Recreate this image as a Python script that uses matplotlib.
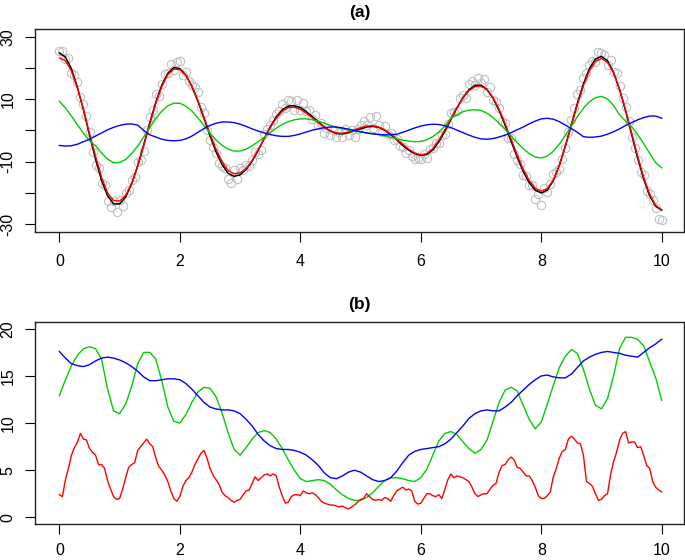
import matplotlib
matplotlib.use("Agg")
import matplotlib.pyplot as plt
import numpy as np

plt.rcParams['font.family'] = ['Liberation Sans', 'DejaVu Sans']

# grids
x_pts = np.linspace(0, 10, 201)
x_line = np.linspace(0, 10, 101)

# panel (a): noisy observations
obs = [25.3, 25.4, 22.9, 23.3, 18.5, 17.8, 15.6, 10.7, 8.4, 4.7,
       -0.5, -6.9, -11.0, -11.9, -16.7, -17.5, -22.5, -24.5, -22.7, -26.1,
       -22.2, -24.1, -19.9, -19.0, -15.8, -14.9, -10.2, -9.3, -6.6, 0.1,
       4.2, 6.4, 11.8, 11.0, 14.9, 18.1, 18.5, 21.2, 19.3, 21.9,
       22.2, 17.9, 18.8, 15.7, 14.6, 13.9, 12.3, 7.5, 5.6, 0.3,
       -3.0, -5.3, -7.2, -10.4, -11.5, -12.0, -15.5, -16.9, -12.7, -15.6,
       -11.9, -12.5, -10.9, -11.5, -9.4, -6.9, -7.6, -6.3, -1.2, 0.6,
       1.7, 3.2, 5.4, 6.2, 8.4, 7.2, 9.8, 9.3, 6.6, 9.6,
       6.5, 8.7, 6.3, 6.4, 3.7, 5.1, 1.8, 2.5, -0.8, 0.8,
       -1.5, 0.3, -2.2, -0.6, -2.1, 0.6, -1.6, 0.2, -2.0, 0.5,
       1.7, 2.9, 1.8, 4.2, 0.8, 4.7, 1.8, -0.4, 1.5, -1.2,
       -0.9, -3.2, -2.7, -5.1, -5.4, -7.1, -6.1, -8.3, -9.0, -8.7,
       -9.1, -7.6, -8.7, -5.9, -5.7, -4.1, -3.9, -1.6, -1.2, 2.2,
       5.6, 6.0, 6.3, 10.3, 11.2, 10.3, 14.8, 15.9, 14.6, 16.9,
       15.2, 16.5, 12.2, 13.8, 9.9, 9.0, 7.2, 3.1, 2.3, -2.5,
       -2.5, -7.6, -9.3, -10.6, -14.1, -14.5, -17.3, -17.3, -22.0, -20.2,
       -24.0, -18.3, -19.8, -17.0, -13.9, -13.3, -12.2, -9.0, -5.6, -0.4,
       3.3, 7.3, 11.7, 13.1, 16.9, 18.4, 21.0, 22.1, 21.9, 25.1,
       24.9, 24.1, 20.8, 22.6, 18.6, 18.4, 14.1, 10.3, 7.4, 3.1,
       -2.1, -5.6, -9.5, -13.2, -14.3, -19.4, -20.2, -22.1, -24.9, -28.2,
       -28.7]

truth = [24.8, 23.5, 19.7, 13.8, 6.5, -1.5, -9.2, -16.0, -20.9, -23.5,
         -23.5, -21.3, -17.1, -11.3, -4.6, 2.4, 9.0, 14.5, 18.3, 20.1,
         19.8, 17.7, 14.1, 9.3, 3.9, -1.7, -6.8, -10.9, -13.7, -14.7,
         -14.2, -12.5, -9.8, -6.4, -2.6, 1.1, 4.3, 6.6, 7.8, 7.9,
         7.3, 6.0, 4.4, 2.7, 1.0, -0.2, -1.0, -1.1, -0.7, -0.1,
         0.5, 1.1, 1.3, 1.0, 0.1, -1.3, -3.0, -4.8, -6.3, -7.4,
         -8.0, -7.7, -6.2, -3.6, -0.3, 3.5, 7.2, 10.5, 13.0, 14.4,
         14.5, 13.1, 10.3, 6.4, 1.7, -3.5, -8.5, -13.1, -16.7, -19.1,
         -20.0, -19.1, -16.1, -11.2, -5.0, 1.9, 8.7, 14.9, 19.8, 22.8,
         23.7, 22.3, 18.6, 13.1, 6.3, -1.3, -8.8, -15.5, -20.9, -24.3,
         -25.5]

fit_red = [23.2, 22.3, 19.0, 13.5, 6.8, -1.0, -8.2, -15.0, -20.0, -22.4,
           -22.6, -20.8, -16.9, -11.5, -5.0, 2.0, 8.6, 14.0, 17.9, 19.6,
           19.5, 17.6, 14.2, 9.6, 4.3, -1.1, -6.0, -10.0, -12.8, -13.8,
           -13.6, -12.2, -9.6, -6.2, -2.6, 0.9, 3.9, 6.1, 7.3, 7.4,
           6.8, 5.5, 4.0, 2.4, 1.0, -0.1, -0.8, -0.9, -0.5, 0.2,
           0.9, 1.4, 1.5, 1.1, 0.2, -1.1, -2.7, -4.4, -6.0, -7.2,
           -7.8, -7.4, -5.8, -3.1, 0.2, 3.8, 7.3, 10.4, 12.7, 14.0,
           14.2, 13.0, 10.5, 6.8, 2.2, -2.8, -7.8, -12.4, -16.0, -18.5,
           -19.4, -18.6, -15.8, -11.2, -5.2, 1.5, 8.2, 14.3, 19.1, 22.1,
           23.0, 21.8, 18.4, 13.2, 6.6, -0.8, -8.2, -14.9, -20.4, -24.0,
           -25.4]

fit_green = [9.3, 7.2, 4.6, 1.8, -0.9, -3.3, -4.9, -7.2, -9.2, -10.3,
             -10.3, -9.3, -7.4, -5.0, -2.1, 0.9, 3.8, 6.2, 7.9, 8.7,
             8.7, 7.8, 6.2, 4.0, 1.6, -0.9, -3.0, -4.8, -6.0, -6.6,
             -6.6, -6.0, -4.9, -3.6, -2.2, -0.7, 0.7, 1.9, 2.8, 3.4,
             3.7, 3.7, 3.4, 2.9, 2.3, 1.6, 1.0, 0.5, 0.1, -0.2,
             -0.5, -0.8, -1.0, -1.3, -1.7, -2.2, -2.7, -3.1, -3.4, -3.6,
             -3.5, -3.0, -2.0, -0.5, 1.4, 4.0, 5.0, 6.0, 6.5, 6.6,
             6.4, 5.5, 4.1, 2.3, 0.3, -1.8, -3.9, -5.8, -7.4, -8.5,
             -8.8, -8.2, -6.7, -4.4, -1.6, 1.4, 4.4, 7.1, 9.2, 10.5,
             10.9, 10.1, 8.0, 5.0, 3.0, 1.2, -1.3, -4.2, -7.3, -10.3,
             -12.0]

fit_blue = [-4.8, -5.0, -4.9, -4.4, -3.6, -2.8, -1.8, -0.8, 0.2, 1.0,
            1.6, 2.0, 2.1, 1.7, 0.0, -1.4, -2.1, -2.8, -3.2, -3.3,
            -3.2, -2.7, -1.8, -0.6, 0.6, 1.6, 2.3, 2.7, 2.7, 2.5,
            2.0, 1.3, 0.5, -0.2, -0.8, -1.3, -1.7, -1.9, -1.9, -1.6,
            -1.1, -0.5, 0.1, 0.5, 0.9, 1.1, 1.1, 0.8, 0.4, 0.0,
            -0.4, -0.8, -1.1, -1.3, -1.4, -1.4, -1.2, -0.6, 0.1, 0.8,
            1.4, 1.8, 2.0, 1.9, 1.5, 0.9, 0.1, -0.7, -1.5, -2.2,
            -2.7, -2.8, -2.6, -2.1, -1.5, -0.7, 0.2, 1.1, 2.1, 3.0,
            3.7, 3.9, 3.6, 2.8, 1.7, 0.6, -0.6, -2.0, -2.2, -2.1,
            -1.8, -1.2, -0.4, 0.5, 1.6, 2.5, 3.4, 4.1, 4.6, 4.6,
            3.9]

# panel (b)
err_red = [2.4, 2.2, 4.0, 5.2, 6.6, 7.4, 8.0, 8.9, 8.3, 8.2,
           7.3, 6.9, 6.6, 5.6, 5.6, 5.2, 3.9, 3.0, 2.2, 1.9,
           2.0, 3.0, 4.2, 5.3, 5.6, 5.8, 7.1, 7.5, 7.9, 8.3,
           7.8, 7.5, 6.3, 5.4, 5.0, 4.5, 3.8, 2.8, 2.0, 1.7,
           2.2, 3.3, 3.9, 4.2, 4.8, 5.6, 6.2, 6.8, 7.1, 6.3,
           5.2, 4.5, 4.0, 3.5, 2.7, 2.3, 2.1, 1.8, 1.6, 1.8,
           1.9, 2.4, 2.8, 2.9, 3.6, 4.3, 3.9, 4.2, 4.5, 4.6,
           4.4, 4.6, 4.4, 3.2, 2.3, 1.5, 1.6, 2.2, 2.4, 2.4,
           2.3, 2.8, 2.6, 2.5, 2.6, 2.4, 2.1, 1.7, 1.5, 1.4,
           1.3, 1.3, 1.2, 1.1, 1.2, 1.0, 0.9, 1.1, 1.3, 1.6,
           1.9, 2.0, 2.5, 2.2, 1.9, 1.8, 1.9, 1.8, 2.1, 2.0,
           1.7, 2.3, 2.8, 3.0, 3.2, 2.9, 3.0, 2.8, 1.7, 1.4,
           1.5, 2.0, 2.5, 2.5, 2.3, 2.2, 2.4, 2.0, 3.0, 4.0,
           4.6, 4.2, 4.4, 4.3, 4.2, 4.0, 3.8, 3.2, 2.5, 2.2,
           2.4, 2.5, 2.5, 3.0, 3.4, 3.6, 4.8, 5.5, 5.6, 6.1,
           6.4, 6.1, 5.3, 5.2, 4.8, 4.4, 4.4, 3.9, 3.2, 2.3,
           2.0, 2.0, 2.3, 2.7, 4.3, 5.2, 6.3, 7.0, 7.2, 8.3,
           8.6, 8.3, 7.9, 7.8, 6.6, 3.8, 3.6, 3.3, 2.5, 1.8,
           1.9, 2.3, 2.5, 4.5, 5.9, 6.9, 8.2, 8.9, 9.1, 7.9,
           8.0, 8.0, 7.4, 7.5, 6.6, 5.5, 5.2, 3.8, 3.2, 2.9,
           2.7]

err_green = [12.9, 14.6, 16.1, 17.2, 17.9, 18.1, 17.9, 16.8, 13.6, 11.3,
             11.0, 12.0, 13.9, 16.3, 17.5, 17.5, 16.8, 14.5, 11.7, 10.2,
             10.0, 10.9, 12.2, 13.3, 13.8, 13.7, 12.8, 11.1, 9.0, 7.2,
             6.6, 7.4, 8.3, 9.0, 9.2, 9.0, 8.3, 7.3, 6.1, 5.0,
             4.1, 3.8, 3.9, 4.0, 3.9, 3.5, 2.9, 2.4, 2.0, 1.8,
             1.8, 2.1, 2.6, 3.3, 3.9, 4.2, 4.2, 4.1, 3.9, 3.8,
             4.2, 5.1, 6.6, 8.1, 8.9, 9.1, 8.8, 8.0, 7.3, 6.8,
             7.2, 8.2, 10.2, 12.2, 13.5, 13.8, 13.4, 11.9, 10.4, 9.4,
             10.1, 12.0, 14.0, 15.9, 17.1, 17.8, 17.4, 15.7, 13.6, 11.9,
             11.5, 12.6, 15.0, 17.9, 19.1, 19.1, 18.9, 18.2, 16.5, 14.8,
             12.4]

err_blue = [17.6, 16.9, 16.3, 16.1, 16.0, 16.2, 16.6, 16.9, 17.0, 16.9,
            16.7, 16.4, 16.0, 15.5, 14.9, 14.5, 14.5, 14.6, 14.7, 14.7,
            14.6, 14.2, 13.6, 12.9, 12.2, 11.7, 11.5, 11.4, 11.4, 11.3,
            11.0, 10.4, 9.7, 8.8, 8.1, 7.6, 7.3, 7.2, 7.2, 7.1,
            6.9, 6.6, 6.1, 5.5, 4.7, 4.2, 4.1, 4.4, 4.8, 5.0,
            4.8, 4.4, 4.0, 3.8, 3.9, 4.2, 4.9, 5.8, 6.6, 7.0,
            7.2, 7.3, 7.4, 7.5, 7.8, 8.3, 9.0, 9.7, 10.5, 11.0,
            11.3, 11.4, 11.3, 11.3, 11.7, 12.2, 12.9, 13.5, 14.1, 14.6,
            15.0, 15.1, 14.9, 14.8, 14.8, 15.2, 15.9, 16.6, 17.0, 17.3,
            17.5, 17.6, 17.5, 17.4, 17.2, 17.1, 17.0, 17.5, 18.0, 18.4,
            18.9]

xticks = [0, 2, 4, 6, 8, 10]
yticks_a = [-30, -20, -10, 0, 10, 20, 30]
ylabels_a = ['-30', '', '-10', '', '10', '', '30']
yticks_b = [0, 5, 10, 15, 20]
ylabels_b = ['0', '5', '10', '15', '20']

fig = plt.figure(figsize=(6.85, 5.6), dpi=100)
ax1 = fig.add_axes([35 / 685, 1 - 231.7 / 560, 649 / 685, 202.7 / 560])
ax2 = fig.add_axes([35 / 685, 1 - 524.3 / 560, 649 / 685, 202.6 / 560])

ax1.plot(x_pts, obs, 'o', mfc='none', mec='#c0c0c0', ms=6, mew=0.8)
ax1.plot(x_line, truth, color='black', lw=1.1)
ax1.plot(x_line, fit_red, color='#ff0000', lw=1.0)
ax1.plot(x_line, fit_green, color='#00cd00', lw=1.0)
ax1.plot(x_line, fit_blue, color='#0000ff', lw=1.0)
ax1.set_ylim(-32.4, 32.46)
ax1.set_yticks(yticks_a)
ax1.set_yticklabels(ylabels_a, rotation=90, va='center')
ax1.set_title('(a)', fontweight='bold', fontsize=12.5, pad=9)

ax2.plot(x_line, err_green, color='#00cd00', lw=1.0)
ax2.plot(x_line, err_blue, color='#0000ff', lw=1.0)
ax2.plot(x_pts, err_red, color='#ff0000', lw=1.0)
ax2.set_ylim(-0.74, 20.76)
ax2.set_yticks(yticks_b)
ax2.set_yticklabels(ylabels_b, rotation=90, va='center')
ax2.set_title('(b)', fontweight='bold', fontsize=12.5, pad=9)

for ax in (ax1, ax2):
    ax.set_xlim(-0.405, 10.37)
    ax.set_xticks(xticks)
    ax.set_xticklabels([str(v) for v in xticks])
    ax.tick_params(direction='out', length=7.2, width=0.8, labelsize=11.5)
    ax.tick_params(axis='y', pad=7)
    for s in ax.spines.values():
        s.set_linewidth(1.0)
        s.set_color('#222222')

ax1.tick_params(axis='x', pad=9)
# bottom row sits a little higher so its labels stay inside the image
ax2.tick_params(axis='x', pad=6)

fig.savefig('out.png', dpi=100)
